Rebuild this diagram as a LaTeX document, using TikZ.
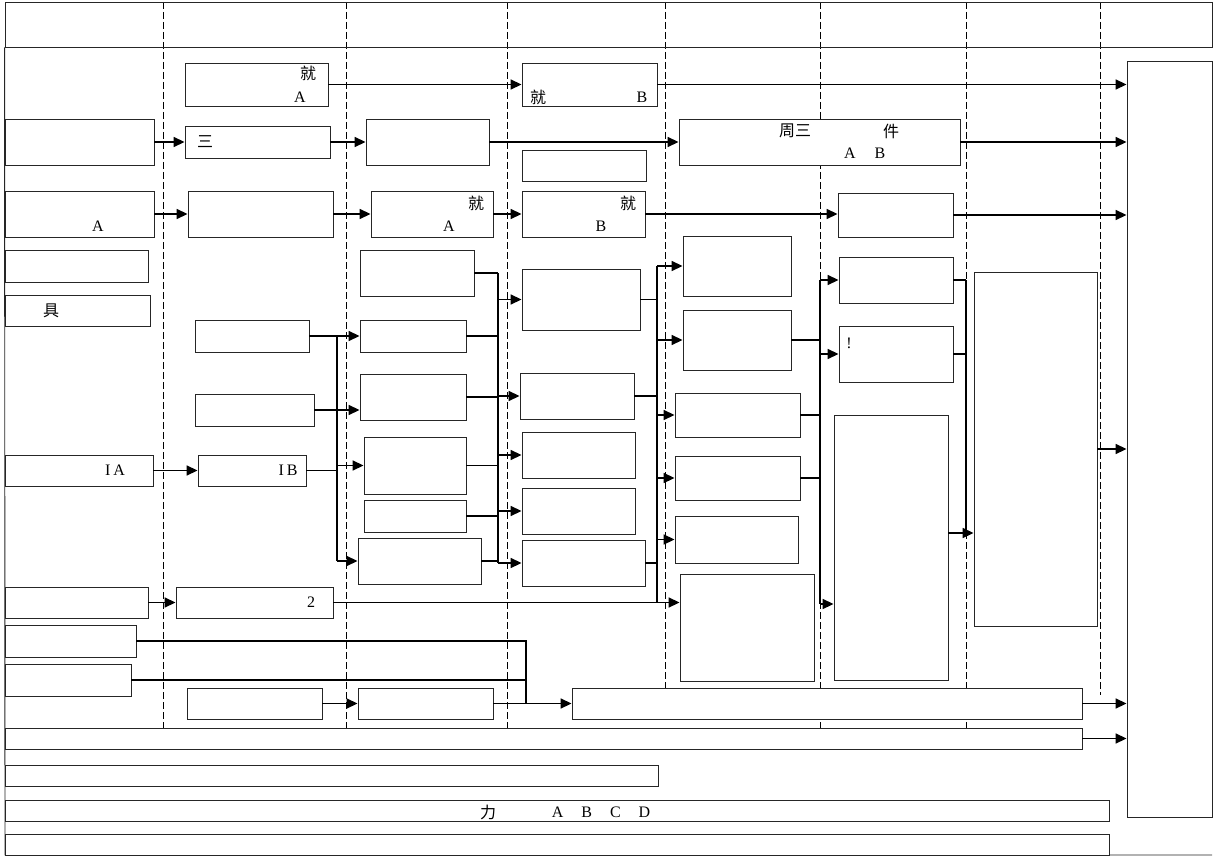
\documentclass[tikz,border=0pt]{standalone}
\usepackage{fontspec}
\setmainfont{Liberation Serif}
\newfontfamily\cjk{Noto Sans CJK SC}
\usetikzlibrary{arrows.meta,positioning,fit}

\begin{document}
\begin{tikzpicture}[
x=1pt, y=-1pt,
box/.style={
    draw=black!85,
    fill=white,
    line width=0.9pt,
    inner sep=0pt
    },
txt/.style={
    inner sep=0pt,
    font=\fontsize{16}{19}\selectfont
    },
lane/.style={draw=black, line width=0.9pt, dash pattern=on 7pt off 3pt},
link/.style={line width=1.7pt},
arr/.style={line width=1.7pt, -{Triangle[length=11pt,width=10pt]}}
]
\useasboundingbox (0,0) rectangle (1213,856);

\foreach \x/\e in {163/728,346/728,507/728,665/688,820/728,966/728,1100/695}
    \draw[lane] (\x,2) -- (\x,\e);

\node[box, fill=none, fit={(5,2) (1212,47)}] (head) {};
\draw[black!85, line width=0.9pt] (head.south west) -- (5,855) -- (1212,855);

% first lane
\node[box, fit={(5,119) (154,165)}] (lone) {};
\node[box, fit={(5,191) (154,237)}] (ltwo) {};
\node[box, fit={(5,250) (148,282)}] (lthree) {};
\node[box, fit={(5,295) (150,326)}] (lfour) {};
\node[box, fit={(5,455) (153,486)}] (IA) {};
\node[box, fit={(5,587) (148,618)}] (lfive) {};
\node[box, fit={(5,625) (136,657)}] (lsix) {};
\node[box, fit={(5,664) (131,696)}] (lseven) {};

% second lane
\node[box, fit={(185,63) (328,106)}] (jiuA) {};
\node[box, fit={(185,126) (330,158)}] (san) {};
\node[box, fit={(188,191) (333,237)}] (mthree) {};
\node[box, fit={(195,320) (309,352)}] (ctwoa) {};
\node[box, fit={(195,394) (314,426)}] (ctwob) {};
\node[box, fit={(198,455) (306,486)}] (IB) {};
\node[box, fit={(176,587) (333,618)}] (two) {};
\node[box, fit={(187,688) (322,719)}] (bone) {};

% third lane
\node[box, fit={(366,119) (489,165)}] (mtwo) {};
\node[box, fit={(371,191) (493,237)}] (jiuAb) {};
\node[box, fit={(360,250) (474,296)}] (cthreea) {};
\node[box, fit={(360,320) (466,352)}] (cthreeb) {};
\node[box, fit={(360,374) (466,420)}] (cthreec) {};
\node[box, fit={(364,437) (466,494)}] (cthreed) {};
\node[box, fit={(364,500) (466,532)}] (cthreee) {};
\node[box, fit={(358,538) (481,584)}] (cthreef) {};
\node[box, fit={(358,688) (493,719)}] (btwo) {};

% fourth lane
\node[box, fit={(522,63) (657,106)}] (jiuB) {};
\node[box, fit={(522,150) (646,181)}] (stwo) {};
\node[box, fit={(522,191) (645,237)}] (jiuBb) {};
\node[box, fit={(522,269) (640,330)}] (cfoura) {};
\node[box, fit={(520,373) (634,419)}] (cfourb) {};
\node[box, fit={(522,432) (635,478)}] (cfourc) {};
\node[box, fit={(522,488) (635,534)}] (cfourd) {};
\node[box, fit={(522,540) (645,586)}] (cfoure) {};

% fifth lane
\node[box, fit={(679,119) (960,165)}] (zhou) {};
\node[box, fit={(683,236) (791,296)}] (cfivea) {};
\node[box, fit={(683,310) (791,370)}] (cfiveb) {};
\node[box, fit={(675,393) (800,437)}] (cfivec) {};
\node[box, fit={(675,456) (800,500)}] (cfived) {};
\node[box, fit={(675,516) (798,563)}] (cfivee) {};
\node[box, fit={(680,574) (814,681)}] (cfivef) {};
\node[box, fit={(572,688) (1082,719)}] (bthree) {};

% sixth and seventh lane
\node[box, fit={(838,193) (953,237)}] (rthree) {};
\node[box, fit={(839,257) (953,303)}] (csixa) {};
\node[box, fit={(839,326) (953,382)}] (csixb) {};
\node[box, fit={(834,415) (948,680)}] (csixc) {};
\node[box, fit={(974,272) (1097,626)}] (cseven) {};
\node[box, fit={(1127,61) (1212,817)}] (out) {};

% bottom rows
\node[box, fit={(5,728) (1082,749)}] (rowA) {};
\node[box, fit={(5,765) (658,786)}] (rowB) {};
\node[box, fit={(5,800) (1109,821)}] (rowC) {};
\node[box, fit={(5,834) (1109,855)}] (rowD) {};

% texts
\node[txt] (jiuAt) at (308,73) {\cjk 就};
\node[txt] (jiuAl) at (300,97) {A};
\node[txt] (jiuBt) at (538,97) {\cjk 就};
\node[txt] (jiuBl) at (642,97) {B};
\node[txt] (sant) at (205,142) {\cjk 三};
\node[txt] (zhout) at (795,131) {\cjk 周三};
\node[txt] (jiant) at (891,131) {\cjk 件};
\node[txt] (zhouA) at (850,153) {A};
\node[txt] (zhouB) at (880,153) {B};
\node[txt] (ltwol) at (98,226) {A};
\node[txt] (jiuAbt) at (476,203) {\cjk 就};
\node[txt] (jiuAbl) at (449,226) {A};
\node[txt] (jiuBbt) at (628,203) {\cjk 就};
\node[txt] (jiuBbl) at (601,226) {B};
\node[txt] (jut) at (51,311) {\cjk 具};
\node[txt] (IAt) at (115,470) {I\hspace{3pt}A};
\node[txt] (IBt) at (288,470) {I\hspace{3pt}B};
\node[txt] (twot) at (311,602) {2};
\node[txt] (bangt) at (849,343) {!};
\node[txt] (lit) at (488,812) {\cjk 力};
\node[txt] (abcd) at (601,812) {A\hspace{18pt}B\hspace{18pt}C\hspace{18pt}D};

% straight flows
\draw[arr] (jiuA.east) -- (jiuA.east -| jiuB.west);
\draw[arr] (lone.east) -- (lone.east -| san.west);
\draw[arr] (san.east) -- (san.east -| mtwo.west);
\draw[arr] (mtwo.east) -- (mtwo.east -| zhou.west);
\draw[arr] (ltwo.east) -- (ltwo.east -| mthree.west);
\draw[arr] (mthree.east) -- (mthree.east -| jiuAb.west);
\draw[arr] (jiuAb.east) -- (jiuAb.east -| jiuBb.west);
\draw[arr] (jiuBb.east) -- (jiuBb.east -| rthree.west);
\draw[arr] (IA.east) -- (IA.east -| IB.west);
\draw[arr] (lfive.east) -- (lfive.east -| two.west);
\foreach \n in {jiuB,zhou,rthree,cseven,bthree,rowA}
    \draw[arr] (\n.east) -- (\n.east -| out.west);

% first bus
\coordinate (busone) at (337,0);
\draw[link] (busone |- ctwoa.east) -- (busone |- cthreef.west);
\draw[arr] (ctwoa.east) -- (ctwoa.east -| cthreeb.west);
\draw[arr] (ctwob.east) -- (ctwob.east -| cthreec.west);
\draw[link] (IB.east) -- (IB.east -| busone);
\draw[arr] (busone |- cthreed.west) -- (cthreed.west);
\draw[arr] (busone |- cthreef.west) -- (cthreef.west);

% second bus
\coordinate (bustwo) at (498,0);
\draw[link] (bustwo |- cthreea.east) -- (bustwo |- cfoure.west);
\foreach \n in {cthreea,cthreeb,cthreec,cthreed,cthreee,cthreef}
    \draw[link] (\n.east) -- (\n.east -| bustwo);
\foreach \n in {cfoura,cfourb,cfourc,cfourd,cfoure}
    \draw[arr] (bustwo |- \n.west) -- (\n.west);

% third bus
\coordinate (busthree) at (657,0);
\draw[link] (busthree |- cfivea.west) -- (busthree |- two.east);
\foreach \n in {cfoura,cfourb,cfoure}
    \draw[link] (\n.east) -- (\n.east -| busthree);
\draw[arr] (two.east) -- (two.east -| cfivef.west);
\foreach \n in {cfivea,cfiveb,cfivec,cfived,cfivee}
    \draw[arr] (busthree |- \n.west) -- (\n.west);

% fourth bus
\coordinate (busfour) at (820,0);
\coordinate (csixin) at (820,604);
\draw[link] (busfour |- csixa.west) -- (csixin);
\foreach \n in {cfiveb,cfivec,cfived}
    \draw[link] (\n.east) -- (\n.east -| busfour);
\draw[arr] (busfour |- csixa.west) -- (csixa.west);
\draw[arr] (busfour |- csixb.west) -- (csixb.west);
\draw[arr] (csixin) -- (csixin -| csixc.west);

% fifth bus
\coordinate (busfive) at (966,0);
\coordinate (csevenin) at (966,533);
\draw[link] (busfive |- csixa.east) -- (csevenin);
\draw[link] (csixa.east) -- (csixa.east -| busfive);
\draw[link] (csixb.east) -- (csixb.east -| busfive);
\draw[arr] (csixc.east |- csevenin) -- (csevenin -| cseven.west);

% bottom flows
\coordinate (merge) at (526,0);
\draw[link] (lsix.east) -- (lsix.east -| merge) -- (merge |- btwo.east);
\draw[link] (lseven.east) -- (lseven.east -| merge);
\draw[arr] (bone.east) -- (bone.east -| btwo.west);
\draw[arr] (btwo.east) -- (btwo.east -| bthree.west);

\end{tikzpicture}
\end{document}
